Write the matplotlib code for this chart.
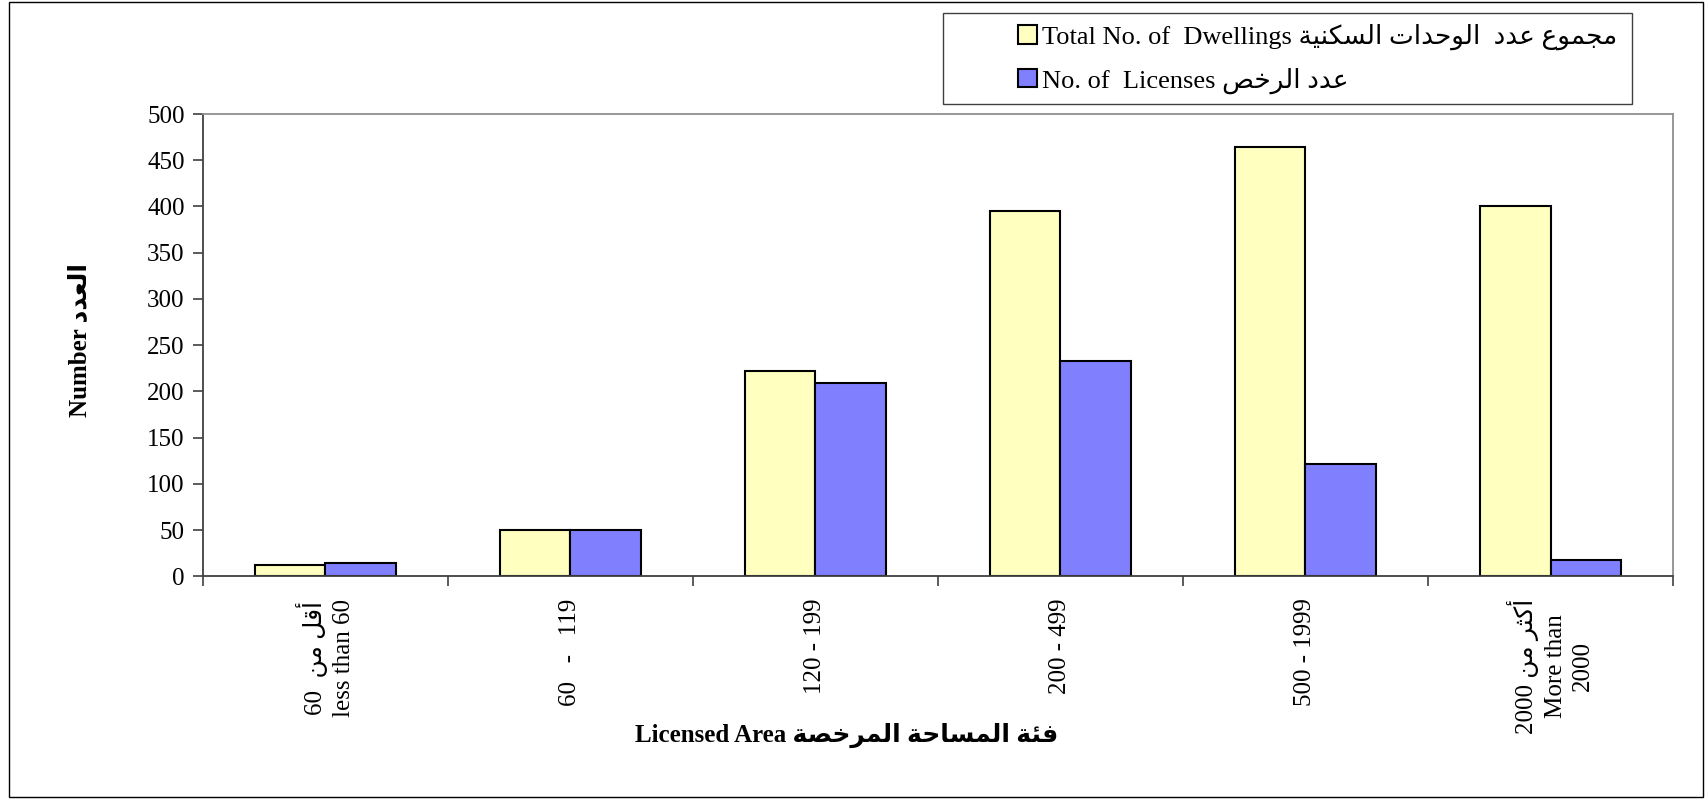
import numpy as np
import matplotlib
matplotlib.use('Agg')
import matplotlib.pyplot as plt
from matplotlib.patches import Rectangle, Patch

# Arabic presentation forms: isolated, final, initial, medial
FORMS = {
    'ا': ('\uFE8D', '\uFE8E'), 'أ': ('\uFE83', '\uFE84'), 'ة': ('\uFE93', '\uFE94'),
    'د': ('\uFEA9', '\uFEAA'), 'ر': ('\uFEAD', '\uFEAE'), 'و': ('\uFEED', '\uFEEE'),
    'ئ': ('\uFE89', '\uFE8A', '\uFE8B', '\uFE8C'), 'ت': ('\uFE95', '\uFE96', '\uFE97', '\uFE98'),
    'ث': ('\uFE99', '\uFE9A', '\uFE9B', '\uFE9C'), 'ج': ('\uFE9D', '\uFE9E', '\uFE9F', '\uFEA0'),
    'ح': ('\uFEA1', '\uFEA2', '\uFEA3', '\uFEA4'), 'خ': ('\uFEA5', '\uFEA6', '\uFEA7', '\uFEA8'),
    'س': ('\uFEB1', '\uFEB2', '\uFEB3', '\uFEB4'), 'ص': ('\uFEB9', '\uFEBA', '\uFEBB', '\uFEBC'),
    'ع': ('\uFEC9', '\uFECA', '\uFECB', '\uFECC'), 'ف': ('\uFED1', '\uFED2', '\uFED3', '\uFED4'),
    'ق': ('\uFED5', '\uFED6', '\uFED7', '\uFED8'), 'ك': ('\uFED9', '\uFEDA', '\uFEDB', '\uFEDC'),
    'ل': ('\uFEDD', '\uFEDE', '\uFEDF', '\uFEE0'), 'م': ('\uFEE1', '\uFEE2', '\uFEE3', '\uFEE4'),
    'ن': ('\uFEE5', '\uFEE6', '\uFEE7', '\uFEE8'), 'ي': ('\uFEF1', '\uFEF2', '\uFEF3', '\uFEF4'),
}


def ar(s):
    # shape arabic letters and put them in visual (left to right) order
    out = []
    for i, ch in enumerate(s):
        if ch not in FORMS:
            out.append(ch)
            continue
        prev = s[i - 1] if i > 0 else ''
        nxt = s[i + 1] if i + 1 < len(s) else ''
        jp = prev in FORMS and len(FORMS[prev]) == 4
        jn = nxt in FORMS and len(FORMS[ch]) == 4
        f = FORMS[ch]
        if jp and jn:
            out.append(f[3])
        elif jp:
            out.append(f[1])
        elif jn:
            out.append(f[2])
        else:
            out.append(f[0])
    return ''.join(out[::-1])


categories = [
    '60  ' + ar('أقل من') + '\nless than 60',
    '60   -   119',
    '120 - 199',
    '200 - 499',
    '500 - 1999',
    '2000 ' + ar('أكثر من') + '\nMore than\n2000',
]
dwellings = [12, 50, 222, 395, 464, 400]
licenses = [14, 50, 209, 233, 121, 18]

dwell_label = 'Total No. of  Dwellings ' + ar('مجموع عدد  الوحدات السكنية')
lic_label = 'No. of  Licenses ' + ar('عدد الرخص')
y_label = 'Number ' + ar('العدد')
x_label = 'Licensed Area ' + ar('فئة المساحة المرخصة')

FAM = ['Liberation Serif', 'DejaVu Sans']
plt.rcParams['font.family'] = FAM

fig = plt.figure(figsize=(17.06, 7.99), dpi=100)
ax = fig.add_axes([0.1188, 0.2787, 0.8619, 0.5786])

x = np.arange(len(categories))
w = 0.288
ax.bar(x - w / 2, dwellings, w, color='#FFFFC0', edgecolor='black', linewidth=1.5, label=dwell_label)
ax.bar(x + w / 2, licenses, w, color='#8080FF', edgecolor='black', linewidth=1.5, label=lic_label)

ax.set_xlim(-0.5, len(categories) - 0.5)
ax.set_ylim(0, 500)
ax.set_yticks(np.arange(0, 501, 50))
ax.tick_params(axis='y', direction='out', length=7, width=1.2, color='#404040', pad=6, labelsize=18)

ax.set_xticks(np.arange(-0.5, len(categories), 1.0))
ax.set_xticklabels([])
ax.tick_params(axis='x', which='major', direction='out', length=7, width=1.2, color='#404040')
ax.set_xticks(x, minor=True)
ax.set_xticklabels(categories, minor=True, rotation=90, fontsize=18, ha='center', va='top',
                   multialignment='center', linespacing=1.3)
ax.tick_params(axis='x', which='minor', length=0, pad=16)

for s in ['left', 'bottom']:
    ax.spines[s].set_color('#404040')
    ax.spines[s].set_linewidth(1.3)
for s in ['top', 'right']:
    ax.spines[s].set_color('#909090')
    ax.spines[s].set_linewidth(1.3)

fig.text(0.047, 0.574, y_label, rotation=90, ha='center', va='center', fontsize=18, fontweight='bold')
fig.text(0.496, 0.080, x_label, ha='center', va='center', fontsize=18, fontweight='bold')

# legend box
fig.patches.append(Rectangle((0.5528, 0.8698), 0.4038, 0.1139, transform=fig.transFigure,
                             facecolor='white', edgecolor='#404040', linewidth=1.0))
handles = [Patch(facecolor='#FFFFC0', edgecolor='black', linewidth=1.5),
           Patch(facecolor='#8080FF', edgecolor='black', linewidth=1.5)]
fig.legend(handles, [dwell_label, lic_label], loc='center left', bbox_to_anchor=(0.597, 0.9264),
           frameon=False, fontsize=19, handlelength=0.7, handleheight=0.7, handletextpad=0.2,
           labelspacing=0.65, borderpad=0, borderaxespad=0)

# outer border
fig.patches.append(Rectangle((0.005, 0.002), 0.993, 0.995, transform=fig.transFigure,
                             facecolor='none', edgecolor='black', linewidth=1.0))

fig.savefig('out.png', dpi=100)
